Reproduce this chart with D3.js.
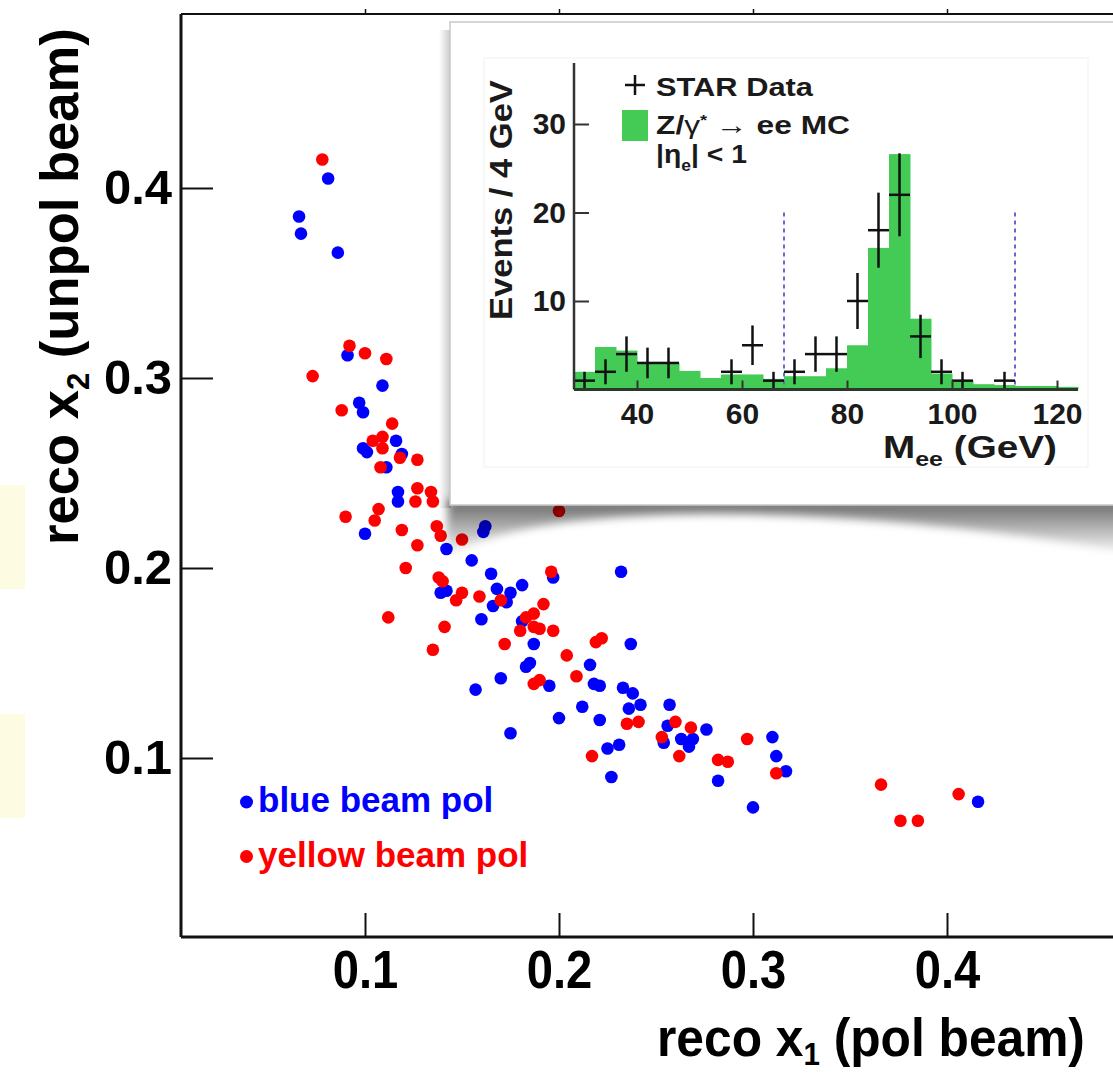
<!DOCTYPE html>
<html>
<head>
<meta charset="utf-8">
<script src="https://cdn.jsdelivr.net/npm/d3@7"></script>
<style>
  html, body { margin: 0; padding: 0; background: #fff; }
  svg { display: block; }
  text { font-family: 'Liberation Sans', Arial, Helvetica, sans-serif; }
</style>
</head>
<body>
<svg id="chart" width="1113" height="1074"></svg>
<script>
// reco x1 / x2 of the Z candidates, one pair of arrays per beam
const blueX = [0.081, 0.066, 0.067, 0.086, 0.091, 0.109, 0.097, 0.099, 0.116, 0.099, 0.101, 0.119, 0.111, 0.117, 0.117, 0.100,
  0.142, 0.162, 0.161, 0.155, 0.165, 0.197, 0.232, 0.139, 0.142, 0.168, 0.175, 0.181, 0.173, 0.166, 0.160, 0.181,
  0.187, 0.237, 0.185, 0.183, 0.216, 0.170, 0.195, 0.218, 0.221, 0.233, 0.238, 0.242, 0.236, 0.257, 0.157, 0.212,
  0.200, 0.221, 0.256, 0.175, 0.254, 0.263, 0.267, 0.269, 0.225, 0.231, 0.227, 0.276, 0.282, 0.310, 0.312, 0.317,
  0.300, 0.416];
const blueY = [0.405, 0.385, 0.376, 0.366, 0.312, 0.296, 0.287, 0.282, 0.267, 0.263, 0.261, 0.260, 0.253, 0.240, 0.235, 0.218,
  0.210, 0.222, 0.219, 0.204, 0.197, 0.195, 0.198, 0.187, 0.188, 0.189, 0.187, 0.191, 0.182, 0.180, 0.173, 0.172,
  0.160, 0.160, 0.150, 0.148, 0.149, 0.142, 0.138, 0.139, 0.138, 0.137, 0.134, 0.128, 0.126, 0.128, 0.136, 0.127,
  0.121, 0.120, 0.117, 0.113, 0.108, 0.110, 0.106, 0.110, 0.105, 0.107, 0.090, 0.115, 0.088, 0.111, 0.101, 0.093,
  0.074, 0.077];
const redX = [0.078, 0.092, 0.100, 0.111, 0.073, 0.088, 0.114, 0.104, 0.109, 0.109, 0.118, 0.127, 0.108, 0.127, 0.134, 0.126,
  0.135, 0.107, 0.105, 0.090, 0.119, 0.137, 0.139, 0.150, 0.127, 0.200, 0.121, 0.196, 0.138, 0.140, 0.150, 0.147,
  0.159, 0.170, 0.192, 0.112, 0.141, 0.187, 0.183, 0.180, 0.187, 0.190, 0.197, 0.135, 0.172, 0.219, 0.222, 0.204,
  0.209, 0.187, 0.190, 0.235, 0.241, 0.260, 0.268, 0.253, 0.262, 0.217, 0.282, 0.287, 0.297, 0.312, 0.366, 0.376,
  0.385, 0.406];
const redY = [0.415, 0.317, 0.313, 0.310, 0.301, 0.283, 0.276, 0.267, 0.269, 0.263, 0.258, 0.257, 0.253, 0.242, 0.240, 0.235,
  0.235, 0.231, 0.225, 0.227, 0.220, 0.222, 0.217, 0.215, 0.212, 0.230, 0.200, 0.198, 0.195, 0.193, 0.187, 0.183,
  0.185, 0.183, 0.181, 0.174, 0.169, 0.176, 0.174, 0.167, 0.169, 0.168, 0.167, 0.157, 0.160, 0.161, 0.163, 0.154,
  0.143, 0.139, 0.141, 0.118, 0.119, 0.119, 0.116, 0.111, 0.101, 0.101, 0.099, 0.098, 0.110, 0.092, 0.086, 0.067,
  0.067, 0.081];
const xTicks = [0.1, 0.2, 0.3, 0.4];
const yTicks = [0.1, 0.2, 0.3, 0.4];

// inset: invariant mass histogram
const massBins = [28, 32, 36, 40, 44, 48, 52, 56, 60, 64, 68, 72, 76, 80, 84, 88, 92, 96, 100, 104, 108, 112, 116, 120];
const mcCounts = [2.0, 4.8, 4.4, 3.0, 3.0, 2.1, 1.3, 1.7, 1.7, 1.2, 1.5, 1.5, 2.4, 5.0, 16.0, 26.6, 8.0, 1.8, 1.0, 0.6, 0.5, 0.4, 0.4, 0.3];
const dataMass = [30, 34, 38, 42, 46, 58, 62, 66, 70, 74, 78, 82, 86, 90, 94, 98, 102, 110];
const dataCounts = [1, 2, 4, 3, 3, 2, 5, 1, 2, 4, 4, 10, 18, 22, 6, 2, 1, 1];
const massTicks = [40, 60, 80, 100, 120];
const countTicks = [10, 20, 30];
const windowCuts = [68, 112];

const svg = d3.select('#chart');
const width = +svg.attr('width');

const frame = { left: 181, top: 14, bottom: 937, right: width };
const x = d3.scaleLinear().domain([0.1, 0.4]).range([365, 947]);
const y = d3.scaleLinear().domain([0.1, 0.4]).range([758, 188]);

// squeeze/stretch a text horizontally so it takes the wanted width
const fitText = (sel, targetW, tx, ty, rot) => {
  const w = sel.node().getComputedTextLength();
  const s = targetW / w;
  sel.attr('transform', `translate(${tx},${ty})${rot ? ' rotate(-90)' : ''} scale(${s},1)`);
};

const defs = svg.append('defs');
const shadowGrad = defs.append('linearGradient').attr('id', 'shadowGrad')
  .attr('x1', 0).attr('y1', 0).attr('x2', 0).attr('y2', 1);
shadowGrad.append('stop').attr('offset', '0%').attr('stop-color', '#000').attr('stop-opacity', 0.6);
shadowGrad.append('stop').attr('offset', '100%').attr('stop-color', '#000').attr('stop-opacity', 0);
const sideGrad = defs.append('linearGradient').attr('id', 'sideGrad')
  .attr('x1', 0).attr('y1', 0).attr('x2', 1).attr('y2', 0);
sideGrad.append('stop').attr('offset', '0%').attr('stop-color', '#000').attr('stop-opacity', 0);
sideGrad.append('stop').attr('offset', '100%').attr('stop-color', '#000').attr('stop-opacity', 0.22);
defs.append('filter').attr('id', 'blur').attr('x', '-10%').attr('y', '-50%').attr('width', '120%').attr('height', '200%')
  .append('feGaussianBlur').attr('stdDeviation', 4);

// pale highlight boxes on the left border
svg.append('rect').attr('x', 0).attr('y', 485).attr('width', 25).attr('height', 104).attr('fill', '#fdfbe1');
svg.append('rect').attr('x', 0).attr('y', 714).attr('width', 25).attr('height', 104).attr('fill', '#fdfbe1');

// frame lines
svg.append('line').attr('x1', frame.left).attr('x2', frame.left).attr('y1', frame.top).attr('y2', frame.bottom)
  .attr('stroke', '#111').attr('stroke-width', 3);
svg.append('line').attr('x1', frame.left).attr('x2', frame.right).attr('y1', frame.bottom).attr('y2', frame.bottom)
  .attr('stroke', '#111').attr('stroke-width', 3);
svg.append('line').attr('x1', frame.left).attr('x2', frame.right).attr('y1', frame.top).attr('y2', frame.top)
  .attr('stroke', '#111').attr('stroke-width', 2);

// top ticks
svg.append('g').attr('transform', `translate(0,${frame.top})`)
  .call(d3.axisTop(x).tickValues(xTicks).tickSize(5).tickFormat(''))
  .call(g => g.select('.domain').remove())
  .selectAll('line').attr('stroke', '#111').attr('stroke-width', 1.5);

// bottom axis
const xAxis = svg.append('g').attr('transform', `translate(0,${frame.bottom})`)
  .call(d3.axisBottom(x).tickValues(xTicks).tickSize(-24).tickPadding(13).tickFormat(d3.format('.1f')));
xAxis.select('.domain').remove();
xAxis.selectAll('line').attr('stroke', '#111').attr('stroke-width', 2);
xAxis.selectAll('text')
  .attr('fill', '#000')
  .style('font-family', "'Liberation Sans', Arial, sans-serif")
  .style('font-size', '53px')
  .style('font-weight', 'bold')
  .attr('transform', 'scale(0.89,1)');

// left axis
const yAxis = svg.append('g').attr('transform', `translate(${frame.left},0)`)
  .call(d3.axisLeft(y).tickValues(yTicks).tickSize(-32).tickPadding(9).tickFormat(d3.format('.1f')));
yAxis.select('.domain').remove();
yAxis.selectAll('line').attr('stroke', '#111').attr('stroke-width', 2);
yAxis.selectAll('text')
  .attr('fill', '#000')
  .style('font-family', "'Liberation Sans', Arial, sans-serif")
  .style('font-size', '49px')
  .style('font-weight', 'bold');

// scatter points
const points = svg.append('g');
points.selectAll('.blue').data(blueX).enter().append('circle')
  .attr('class', 'blue')
  .attr('cx', d => x(d))
  .attr('cy', (d, i) => y(blueY[i]))
  .attr('r', 6.3)
  .attr('fill', '#0000ff');
points.selectAll('.red').data(redX).enter().append('circle')
  .attr('class', 'red')
  .attr('cx', d => x(d))
  .attr('cy', (d, i) => y(redY[i]))
  .attr('r', 6.3)
  .attr('fill', '#ff0000');

// legend
const legendItems = [
  { label: 'blue beam pol', color: '#0000ff', y: 802 },
  { label: 'yellow beam pol', color: '#ff0000', y: 856.5 }
];
const legend = svg.append('g');
legend.selectAll('circle').data(legendItems).enter().append('circle')
  .attr('cx', 246.5).attr('cy', d => d.y).attr('r', 6.5).attr('fill', d => d.color);
legend.selectAll('text').data(legendItems).enter().append('text')
  .attr('x', 258).attr('y', d => d.y + 10)
  .attr('fill', d => d.color)
  .style('font-size', '35px')
  .style('font-weight', 'bold')
  .text(d => d.label);

// axis titles
const xTitle = svg.append('text')
  .style('font-size', '54px').style('font-weight', 'bold');
xTitle.append('tspan').text('reco x');
xTitle.append('tspan').attr('dy', 9).style('font-size', '32px').text('1');
xTitle.append('tspan').attr('dy', -9).text(' (pol beam)');
fitText(xTitle, 428, 657, 1056, false);

const yTitle = svg.append('text')
  .style('font-size', '54px').style('font-weight', 'bold');
yTitle.append('tspan').text('reco x');
yTitle.append('tspan').attr('dy', 11).style('font-size', '32px').text('2');
yTitle.append('tspan').attr('dy', -11).text(' (unpol beam)');
fitText(yTitle, 517, 78, 545, true);

// ---- inset ----
const inset = svg.append('g');
inset.append('path')
  .attr('d', 'M448,500 L1125,500 L1125,552 C1010,532 860,514 710,514 C590,515 500,526 446,556 Z')
  .attr('fill', 'url(#shadowGrad)')
  .attr('filter', 'url(#blur)');
inset.append('rect').attr('x', 439).attr('y', 30).attr('width', 12).attr('height', 478)
  .attr('fill', 'url(#sideGrad)');
inset.append('rect').attr('x', 450).attr('y', 22).attr('width', 700).attr('height', 483)
  .attr('fill', '#fff').attr('stroke', '#c8c8c8').attr('stroke-width', 1.5);
inset.append('rect').attr('x', 484).attr('y', 58).attr('width', 604).attr('height', 409)
  .attr('fill', 'none').attr('stroke', '#f1f1f1').attr('stroke-width', 1);

const hx = d3.scaleLinear().domain([28, 124]).range([574, 1078]);
const hy = d3.scaleLinear().domain([0, 30]).range([389.5, 124]);

inset.append('g').selectAll('rect').data(massBins).enter().append('rect')
  .attr('x', d => hx(d))
  .attr('width', d => hx(d + 4) - hx(d) + 0.5)
  .attr('y', (d, i) => hy(mcCounts[i]))
  .attr('height', (d, i) => hy(0) - hy(mcCounts[i]))
  .attr('fill', '#43cb55');

// mass window
inset.append('g').selectAll('line').data(windowCuts).enter().append('line')
  .attr('x1', d => hx(d)).attr('x2', d => hx(d))
  .attr('y1', hy(20)).attr('y2', hy(0))
  .attr('stroke', '#6666cc').attr('stroke-width', 2).attr('stroke-dasharray', '4,4');

// data points with errors
const crosses = inset.append('g').attr('stroke', '#111').attr('stroke-width', 2.5);
crosses.selectAll('.ev').data(dataMass).enter().append('line')
  .attr('class', 'ev')
  .attr('x1', d => hx(d)).attr('x2', d => hx(d))
  .attr('y1', (d, i) => hy(dataCounts[i] + Math.sqrt(dataCounts[i])))
  .attr('y2', (d, i) => hy(Math.max(0, dataCounts[i] - Math.sqrt(dataCounts[i]))));
crosses.selectAll('.eh').data(dataMass).enter().append('line')
  .attr('class', 'eh')
  .attr('x1', d => hx(d - 2)).attr('x2', d => hx(d + 2))
  .attr('y1', (d, i) => hy(dataCounts[i]))
  .attr('y2', (d, i) => hy(dataCounts[i]));

// inset axes
inset.append('line').attr('x1', hx(28)).attr('x2', hx(28)).attr('y1', 63).attr('y2', hy(0))
  .attr('stroke', '#333').attr('stroke-width', 2.5);
inset.append('line').attr('x1', hx(28)).attr('x2', hx(124)).attr('y1', hy(0)).attr('y2', hy(0))
  .attr('stroke', '#2a3a2a').attr('stroke-width', 3);

const hyAxis = inset.append('g').attr('transform', `translate(${hx(28)},0)`)
  .call(d3.axisLeft(hy).tickValues(countTicks).tickSize(-15).tickPadding(8));
hyAxis.select('.domain').remove();
hyAxis.selectAll('line').attr('stroke', '#333').attr('stroke-width', 2);
hyAxis.selectAll('text').attr('fill', '#1a1a1a')
  .style('font-family', "'Liberation Sans', Arial, sans-serif")
  .style('font-size', '30px').style('font-weight', 'bold');

const hxAxis = inset.append('g').attr('transform', `translate(0,${hy(0)})`)
  .call(d3.axisBottom(hx).tickValues(massTicks).tickSize(-9).tickPadding(13));
hxAxis.select('.domain').remove();
hxAxis.selectAll('line').attr('stroke', '#333').attr('stroke-width', 2);
hxAxis.selectAll('text').attr('fill', '#1a1a1a')
  .style('font-family', "'Liberation Sans', Arial, sans-serif")
  .style('font-size', '30px').style('font-weight', 'bold');

const evTitle = inset.append('text')
  .attr('fill', '#1a1a1a')
  .style('font-size', '32px').style('font-weight', 'bold')
  .text('Events / 4 GeV');
fitText(evTitle, 240, 512, 320, true);

const mTitle = inset.append('text')
  .attr('fill', '#1a1a1a')
  .style('font-size', '31px').style('font-weight', 'bold');
mTitle.append('tspan').text('M');
mTitle.append('tspan').attr('dy', 8).style('font-size', '20px').text('ee');
mTitle.append('tspan').attr('dy', -8).text(' (GeV)');
fitText(mTitle, 174, 883, 458, false);

// inset legend
inset.append('line').attr('x1', 625).attr('x2', 645).attr('y1', 85).attr('y2', 85)
  .attr('stroke', '#111').attr('stroke-width', 2.5);
inset.append('line').attr('x1', 635).attr('x2', 635).attr('y1', 75).attr('y2', 95)
  .attr('stroke', '#111').attr('stroke-width', 2.5);
const starLabel = inset.append('text')
  .attr('fill', '#1a1a1a')
  .style('font-size', '26px').style('font-weight', 'bold')
  .text('STAR Data');
fitText(starLabel, 157, 656, 96, false);
inset.append('rect').attr('x', 622).attr('y', 110).attr('width', 26).attr('height', 31)
  .attr('fill', '#43cb55');
const zLabel = inset.append('text')
  .attr('fill', '#1a1a1a')
  .style('font-size', '26px').style('font-weight', 'bold');
zLabel.append('tspan').text('Z/');
zLabel.append('tspan').style('font-weight', 'normal').text('γ');
zLabel.append('tspan').attr('dy', -9).style('font-size', '15px').text('*');
zLabel.append('tspan').attr('dy', 9).text(' → ee MC');
fitText(zLabel, 194, 656, 134, false);
const etaLabel = inset.append('text')
  .attr('fill', '#1a1a1a')
  .style('font-size', '26px').style('font-weight', 'bold');
etaLabel.append('tspan').text('|η');
etaLabel.append('tspan').attr('dy', 8).style('font-size', '16px').text('e');
etaLabel.append('tspan').attr('dy', -8).text('| < 1');
fitText(etaLabel, 91, 656, 163, false);
</script>
</body>
</html>
